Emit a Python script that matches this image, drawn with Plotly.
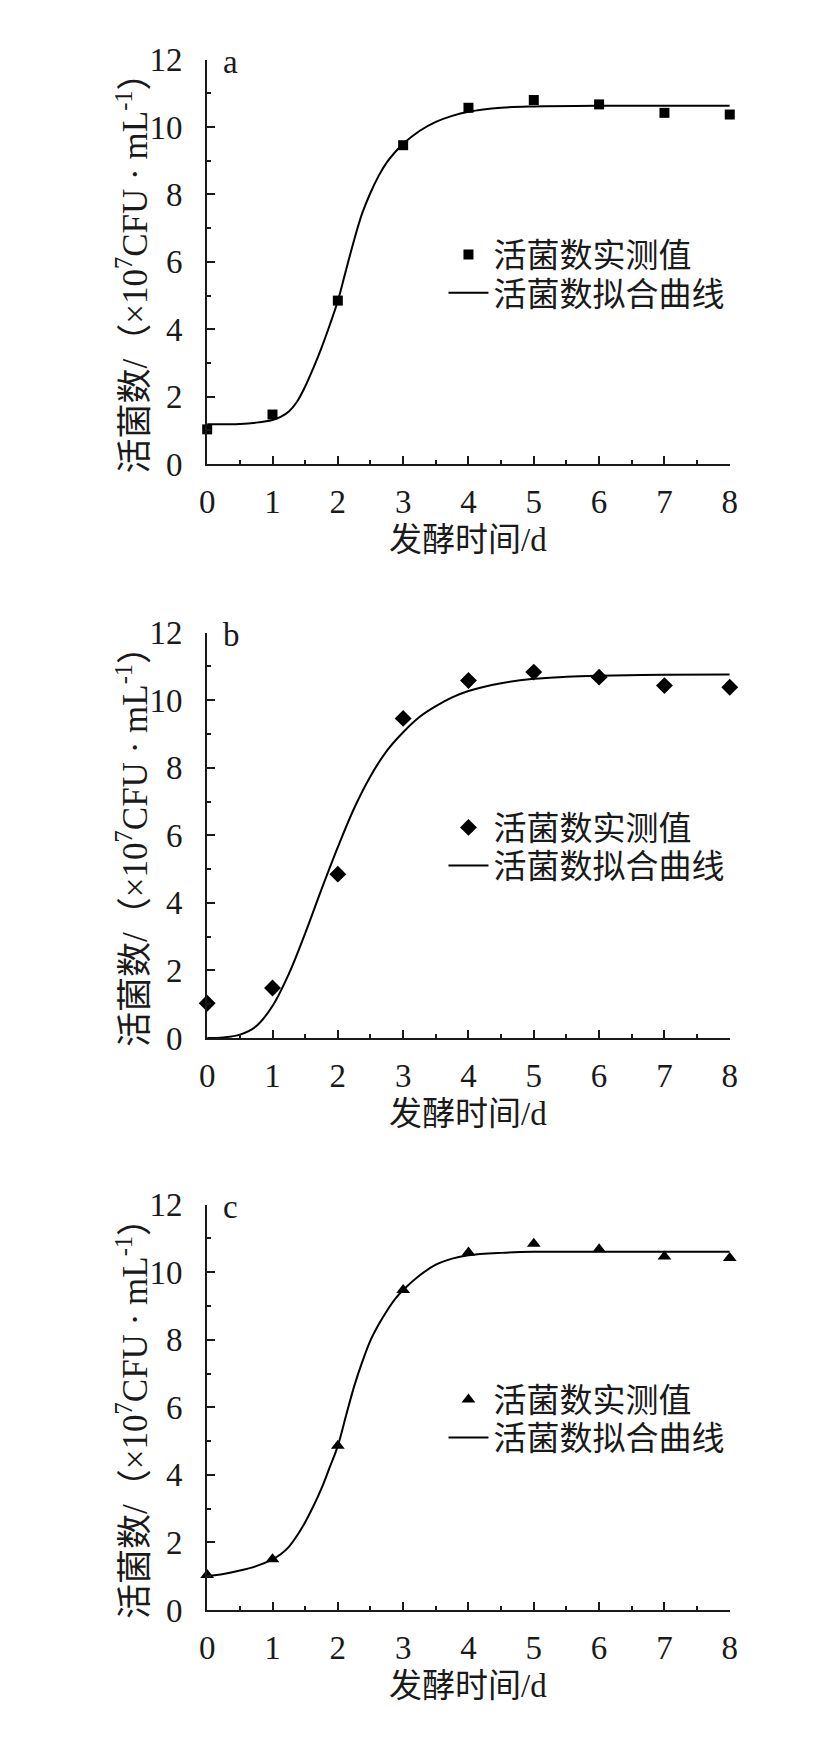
import plotly.graph_objects as go

# ---- data ----
days = [0, 1, 2, 3, 4, 5, 6, 7, 8]
measured_a = [1.03, 1.47, 4.85, 9.46, 10.57, 10.80, 10.67, 10.42, 10.37]
measured_b = [1.03, 1.48, 4.85, 9.46, 10.58, 10.83, 10.68, 10.43, 10.38]
measured_c = [1.04, 1.50, 4.86, 9.47, 10.58, 10.84, 10.68, 10.46, 10.42]

fit_x_a = [0, 0.5, 0.75, 1.0, 1.125, 1.25, 1.375, 1.5, 1.625, 1.75, 1.875, 2.0, 2.125, 2.25,
           2.375, 2.5, 2.625, 2.75, 2.875, 3.0, 3.25, 3.5, 3.75, 4.0, 4.5, 5, 6, 7, 8]
fit_y_a = [1.18, 1.19, 1.23, 1.31, 1.40, 1.56, 1.85, 2.3, 2.85, 3.45, 4.12, 4.84, 5.75, 6.65,
           7.45, 8.05, 8.55, 8.95, 9.25, 9.5, 9.88, 10.15, 10.33, 10.45, 10.57, 10.61, 10.63, 10.63, 10.63]

fit_x_b = [0, 0.25, 0.5, 0.75, 1.0, 1.25, 1.5, 1.75, 2.0, 2.25, 2.5, 2.75, 3.0, 3.25, 3.5,
           3.75, 4.0, 4.5, 5, 5.5, 6, 7, 8]
fit_y_b = [0.0, 0.02, 0.1, 0.35, 0.95, 1.9, 3.1, 4.4, 5.65, 6.8, 7.75, 8.5, 9.05, 9.5, 9.82,
           10.08, 10.27, 10.5, 10.63, 10.69, 10.72, 10.75, 10.76]

fit_x_c = [0, 0.25, 0.5, 0.75, 1.0, 1.125, 1.25, 1.375, 1.5, 1.625, 1.75, 1.875, 2.0, 2.125,
           2.25, 2.375, 2.5, 2.625, 2.75, 2.875, 3.0, 3.25, 3.5, 3.75, 4.0, 4.5, 5, 6, 7, 8]
fit_y_c = [1.01, 1.07, 1.17, 1.30, 1.5, 1.65, 1.87, 2.2, 2.6, 3.07, 3.6, 4.22, 4.86, 5.75,
           6.62, 7.35, 7.98, 8.45, 8.85, 9.2, 9.47, 9.9, 10.22, 10.4, 10.5, 10.57, 10.6, 10.6, 10.6, 10.6]

panel_labels = ["a", "b", "c"]
symbols = ["square", "diamond", "triangle-up"]
marker_sizes = [10, 13, 12]
legend_names = ["活菌数实测值", "活菌数拟合曲线"]
x_title = "发酵时间/d"
y_title = "活菌数/（×10<sup>7</sup>CFU · mL<sup>-1</sup>）"

# ---- layout geometry (pixels) ----
W, H = 818, 1752
x_left, x_right = 195, 728
panels_px = [(35.3, 448.3), (620.3, 1034.3), (1204.3, 1618.3)]  # (top, bottom)

FONT = "Liberation Serif, Times New Roman, Noto Sans CJK SC, serif"
INK = "#1a1a1a"
FS = 33

fig = go.Figure()
measured = [measured_a, measured_b, measured_c]
fits = [(fit_x_a, fit_y_a), (fit_x_b, fit_y_b), (fit_x_c, fit_y_c)]

layout = dict(
    width=W, height=H,
    margin=dict(l=0, r=0, t=0, b=0),
    paper_bgcolor="white", plot_bgcolor="white",
    font=dict(family=FONT, size=FS, color=INK),
    showlegend=True,
    annotations=[],
)

for i in range(3):
    sfx = "" if i == 0 else str(i + 1)
    xa, ya = "x" + sfx, "y" + sfx
    lg1 = "legend" + ("" if i == 0 else str(2 * i + 1))
    lg2 = "legend" + str(2 * i + 2)
    top, bot = panels_px[i]
    fig.add_trace(go.Scatter(
        x=days, y=measured[i], mode="markers", name=legend_names[0],
        marker=dict(symbol=symbols[i], size=marker_sizes[i], color="black"),
        xaxis=xa, yaxis=ya, legend=lg1, cliponaxis=False,
    ))
    fig.add_trace(go.Scatter(
        x=fits[i][0], y=fits[i][1], mode="lines", name=legend_names[1],
        line=dict(color="black", width=2, shape="spline", smoothing=1.0),
        xaxis=xa, yaxis=ya, legend=lg2, cliponaxis=False,
    ))
    axis_common = dict(
        showline=True, linecolor=INK, linewidth=2, showgrid=False, zeroline=False,
        ticks="inside", ticklen=8, tickwidth=2, tickcolor=INK, mirror=False,
        tickfont=dict(family=FONT, size=FS, color=INK),
    )
    layout["xaxis" + sfx] = dict(
        axis_common, domain=[x_left / W, x_right / W], range=[0, 8],
        tickmode="array", tickvals=list(range(0, 9)), anchor=ya,
        minor=dict(ticks="inside", ticklen=4, tickwidth=2, tickcolor=INK, dtick=0.5, tick0=0),
        ticklabelstandoff=7,
    )
    layout["yaxis" + sfx] = dict(
        axis_common, domain=[1 - bot / H, 1 - top / H], range=[0, 12],
        tickmode="array", tickvals=list(range(0, 13, 2)), anchor=xa,
        minor=dict(ticks="inside", ticklen=4, tickwidth=2, tickcolor=INK, dtick=1, tick0=0),
        ticklabelstandoff=16,
    )
    for lg, row_y in ((lg1, top + 199), (lg2, top + 238)):
        layout[lg] = dict(
            x=436 / W, y=1 - row_y / H, xanchor="left", yanchor="middle",
            bgcolor="rgba(0,0,0,0)", font=dict(family=FONT, size=FS, color=INK),
            itemwidth=40, tracegroupgap=0,
        )
    # panel letter
    layout["annotations"].append(dict(
        text=panel_labels[i], x=(x_left + 14) / W, y=1 - (top + 2) / H,
        xref="paper", yref="paper", xanchor="left", yanchor="middle",
        showarrow=False, font=dict(family=FONT, size=FS, color=INK),
    ))
    # x title
    layout["annotations"].append(dict(
        text=x_title, x=(x_left + x_right) / 2 / W, y=1 - (bot + 78) / H,
        xref="paper", yref="paper", xanchor="center", yanchor="middle",
        showarrow=False, font=dict(family=FONT, size=FS, color=INK),
    ))
    # y title
    layout["annotations"].append(dict(
        text=y_title, x=119 / W, y=1 - ((top + bot) / 2 + 3) / H,
        xref="paper", yref="paper", xanchor="center", yanchor="middle",
        textangle=-90, showarrow=False, font=dict(family=FONT, size=35, color=INK),
    ))

fig.update_layout(**layout)
fig.write_html("out.html")
